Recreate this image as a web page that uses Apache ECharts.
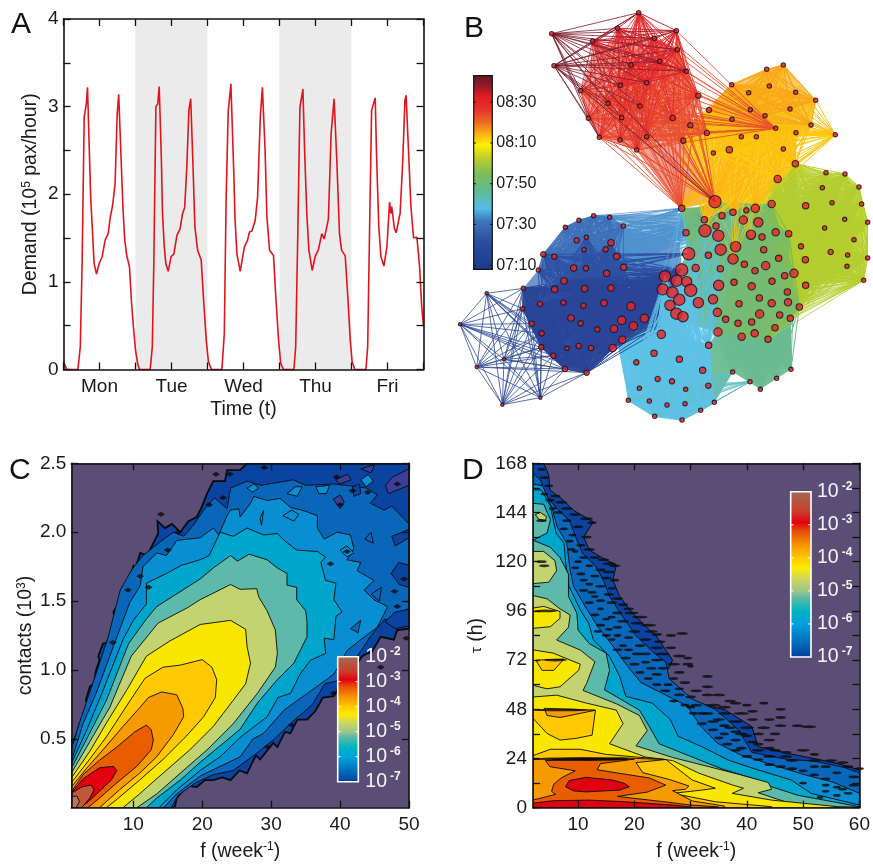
<!DOCTYPE html>
<html><head><meta charset="utf-8">
<style>html,body{margin:0;padding:0;background:#fff}#c{width:873px;height:865px}</style>
<script src="https://cdn.jsdelivr.net/npm/echarts@6/dist/echarts.min.js"></script>
</head><body><div id="c"></div>
<script>
// ---------- Panel A: demand over the week [hour, demand]
const demandMon=[[0,.09],[1.1,0],[4.8,0],[5.6,.26],[6.2,1.2],[6.9,2.88],[7.6,3.03],[8,3.22],[8.7,2.39],[9.1,1.93],[9.7,1.55],[10.2,1.21],[11,1.09],[11.9,1.21],[12.9,1.29],[13.9,1.48],[14.9,1.55],[15.6,1.74],[16.4,1.88],[17.2,2.12],[17.9,2.92],[18.4,3.14],[19.1,2.5],[19.8,1.86],[20.4,1.48],[21.1,1.3],[22,1.17],[22.7,.75],[23.3,.49],[24,.22],[24.7,.07],[25.3,0]];
const demandTue=[[28.9,0],[29.6,.26],[30.1,1.2],[30.8,3.0],[31.4,3.03],[31.9,3.23],[32.6,2.43],[33,1.78],[33.6,1.4],[34.1,1.21],[34.9,1.12],[35.9,1.29],[36.8,1.32],[37.8,1.53],[38.8,1.6],[39.7,1.78],[40.4,1.85],[41.1,2.31],[41.8,2.96],[42.4,3.09],[43.1,2.39],[43.8,1.63],[44.7,1.36],[45.9,1.25],[46.7,.79],[47.6,.33],[48.3,.09],[49.3,0]];
const demandWed=[[52.8,0],[53.6,.41],[54.2,1.93],[54.9,2.94],[55.8,3.26],[56.7,2.31],[57.2,1.7],[57.8,1.32],[58.9,1.12],[60.3,1.4],[61.3,1.47],[62,1.57],[62.8,1.58],[63.9,1.7],[64.7,1.97],[65.6,2.88],[66.3,3.22],[67.2,2.5],[67.8,1.74],[68.7,1.36],[70,1.3],[70.7,.87],[71.7,.33],[72.4,.07],[73.3,0]];
const demandThu=[[76.8,0],[77.4,.26],[78.1,1.55],[78.8,2.99],[79.3,3.0],[79.8,3.2],[80.4,2.47],[81.1,1.78],[81.8,1.36],[82.9,1.13],[83.9,1.29],[85,1.37],[86.1,1.55],[86.4,1.56],[86.9,1.49],[87.6,1.6],[88.3,1.72],[89.2,2.69],[90.2,3.09],[91.1,2.39],[92,1.55],[92.7,1.36],[93.9,1.3],[94.7,.87],[95.6,.33],[96.2,.09],[97.1,0]];
const demandFri=[[100.8,0],[101.4,.26],[102,1.55],[102.7,2.96],[103.2,2.97],[103.9,3.1],[104.4,2.39],[105.1,1.63],[105.8,1.29],[106.8,1.18],[107.8,1.4],[108.7,1.91],[109.1,1.78],[109.4,1.86],[109.8,1.86],[110.3,1.61],[110.9,1.56],[111.7,1.7],[112.2,1.78],[113.1,2.39],[113.8,3.07],[114.2,3.13],[115,2.5],[115.8,1.86],[116.7,1.5],[117.8,1.51],[118.7,1.17],[119.4,.72],[120,.49]];
const dayNames=['Mon','Tue','Wed','Thu','Fri'];
const dayCentres=[12,36,60,84,108];
const shadedDays=[[24,48],[72,96]];

// ---------- Panel B: network layout [x, y, weight]
const maroonNodes=[[335,101,1],[342,197,1]];
const redNodes=[[596,38,1],[533,85,1],[458,123,1],[709,92,1],[643,115,1],[712,149,1],[659,184,1],[739,214,1],[573,195,1],[620,248,1],[541,256,1],[422,272,1],[504,310,1],[600,318,1],[545,353,1],[445,355,1],[478,412,1],[540,420,1],[620,410,1],[590,450,1],[698,354,2],[775,287,2]];
const orangeNodes=[[1030,195,1],[980,208,1],[875,254,1],[988,258,1],[926,278,1],[1067,277,1],[1127,301,1],[807,330,2],[931,329,1],[1050,327,1],[975,347,1],[876,358,1],[1113,375,1]];
const yellowNodes=[[751,376,2],[1007,385,1],[801,399,2],[1068,398,1],[1186,404,1],[904,410,1],[949,410,1],[730,422,2],[1030,447,1],[868,449,3],[820,459,1],[1066,491,3],[1013,537,4]];
const limeNodes=[[1013,537,4],[1066,491,3],[1158,518,1],[1215,522,1],[1147,563,1],[1257,561,1],[1176,608,1],[1265,612,1],[1097,617,3],[1214,658,1],[1283,667,1],[1154,684,1],[1242,719,1],[1083,739,2],[1172,756,2],[1223,765,1],[1096,779,3],[1283,774,1],[1221,799,1],[1271,841,1],[1097,856,3]];
const greenNodes=[[725,625,3],[793,659,3],[846,647,3],[879,637,3],[919,631,2],[946,625,5],[995,612,4],[828,678,3],[910,660,5],[955,667,6],[738,698,3],[795,692,9],[835,707,8],[933,704,6],[966,711,3],[1007,697,4],[1046,701,3],[842,749,8],[887,740,7],[746,761,9],[805,766,3],[971,749,3],[879,777,7],[1016,775,3],[767,804,4],[841,806,3],[913,793,3],[977,797,5],[945,812,3],[1034,827,3],[1062,820,5],[836,856,7],[882,847,3],[935,859,4],[996,844,3],[1042,876,3],[819,898,6],[775,908,7],[958,894,3],[897,911,3],[995,910,4],[1044,907,4],[1078,921,3],[832,937,5],[857,958,3],[894,970,3],[935,966,3],[959,942,5],[1019,945,3],[1051,955,3],[1005,983,3],[834,996,5],[944,1000,4],[905,1010,4],[984,1018,3]];
const tealNodes=[[878,1116,1],[930,1145,1],[961,1168,1],[1010,1135,1],[1053,1108,1]];
const skyNodes=[[806,1036,3],[664,1003,5],[642,1060,3],[589,1087,2],[718,1078,3],[788,1111,3],[653,1137,2],[696,1144,2],[805,1157,2],[598,1165,1],[737,1168,1],[565,1201,1],[628,1203,1],[681,1215,1],[735,1211,1],[782,1231,1],[823,1207,1],[644,1249,1],[726,1260,1]];
const blueNodes=[[461,647,1],[509,652,1],[417,661,1],[550,678,1],[376,682,1],[410,721,2],[439,712,1],[513,728,3],[432,749,1],[497,748,2],[310,763,2],[343,770,2],[530,769,3],[295,810,1],[401,804,3],[438,805,2],[551,802,3],[500,820,3]];
const navyNodes=[[372,843,3],[344,868,3],[434,866,3],[513,864,3],[300,912,2],[370,908,2],[430,917,2],[492,909,3],[573,919,5],[393,954,3],[422,970,2],[545,961,5],[472,988,2],[522,986,4],[381,1045,1],[416,1038,2],[453,1044,2],[518,1044,4],[547,1019,4],[613,955,5],[580,978,5]];
const rimNodes=[[250,865,1],[248,926,1],[275,971,2],[305,1000,2],[304,1042,2],[340,1067,2],[375,1107,2],[440,1118,2]];
const outerNodes=[[140,880,0],[60,973,0],[110,1101,0],[192,1078,0],[187,1214,0],[301,1193,0]];
const coreNodes=[[725,810,9],[675,829,8],[710,842,8],[740,845,7],[668,868,8],[697,877,8],[752,871,9],[718,899,8],[690,916,7],[709,941,8],[729,950,7]];
const hubNode=[[825,605,9]];
const hubBridge=[[725,625,3],[825,605,9],[793,659,3],[879,637,3],[946,625,5]];
const yellowThreads=[[887,740,7],[933,704,6],[846,647,3],[879,777,7],[795,692,9]];
// densely-woven interiors of each community [outline, colour, opacity]
const hullSky=[[527,1000],[664,1003],[806,1036],[823,1207],[782,1231],[726,1260],[644,1249],[565,1201]];
const hullNavy=[[250,865],[344,868],[372,843],[513,864],[668,868],[690,916],[580,978],[522,1040],[440,1118],[375,1107],[304,1042],[248,926]];
const hullBlue=[[295,810],[310,763],[376,682],[461,647],[550,678],[720,730],[725,810],[513,864],[372,843],[250,865]];
const hullTeal=[[834,996],[1051,955],[1053,1108],[961,1168],[878,1116],[823,1207],[806,1036]];
const hullGreen=[[715,640],[825,605],[995,612],[1062,820],[1097,856],[1078,921],[1051,955],[1005,1020],[834,996],[700,960],[668,868],[746,761]];
const hullLime=[[1013,537],[1066,491],[1158,518],[1215,522],[1257,561],[1283,667],[1283,774],[1271,841],[1097,856],[1062,820],[1046,701],[995,612]];
const hullYellow=[[751,376],[801,330],[875,254],[1067,277],[1127,301],[1113,375],[1068,398],[1066,491],[1013,537],[995,612],[825,605],[730,422]];
const hullOrange=[[875,254],[980,208],[1030,195],[1127,301],[1050,327],[931,329],[807,330]];
const hullRed=[[458,160],[540,110],[640,115],[709,150],[775,287],[751,376],[730,422],[825,605],[725,625],[590,450],[478,412],[445,355],[422,272]];
const netHulls=[[hullBlue,'#3f74b9',.75],[hullNavy,'#2a4597',.95],[hullSky,'#5dc2e6',.97],[hullTeal,'#6abb90',.95],[hullLime,'#b8cf2c',.7],[hullGreen,'#74bb78',.97],[hullYellow,'#fcca0e',.75],[hullOrange,'#f9ab1a',.65],[hullRed,'#e6402e',.5]];

// arrival-time colour bar (minutes after midnight)
const clockTicks=[430,450,470,490,510];
const clockStops=[[428,'#1c3a8c'],[442,'#2b4e9e'],[452,'#3e78bd'],[458,'#55bde6'],[466,'#60bb95'],[475,'#7bbd58'],[483,'#c2d02a'],[489,'#fff000'],[494,'#fdb514'],[500,'#ec6a25'],[506,'#e6352c'],[513,'#e01a24'],[518,'#8e1a2c'],[523,'#62181f']];

// ---------- Panel C: density contours [f, contacts]
const cL1=[[1,.49],[1.5,.5],[2.2,.61],[2.5,.6],[3.3,.76],[3.1,.78],[3.7,.88],[4.3,.9],[4.6,1.0],[5.1,1.07],[4.9,1.1],[5.6,1.19],[6.2,1.2],[6.8,1.29],[7.3,1.39],[7.1,1.42],[8.5,1.53],[8.2,1.58],[9.3,1.65],[10,1.75],[10.2,1.72],[11,1.85],[12,1.83],[12.9,1.92],[13.6,1.99],[13.5,2.08],[14.6,2.03],[15.6,2.06],[16.8,2.0],[18,2.08],[19.2,2.11],[19.9,2.18],[20.7,2.28],[21.6,2.37],[23.3,2.37],[23.6,2.45],[25.5,2.45],[26.5,2.5],[50,2.5],[50,1.3],[48.3,1.29],[47.8,1.22],[45.9,1.24],[44.6,1.13],[44,1.12],[43.2,1.1],[41.5,.97],[40.1,.9],[39.1,.81],[37.5,.8],[36.4,.7],[35.2,.64],[33.8,.64],[32.8,.54],[32,.55],[30.9,.44],[30.3,.47],[28.4,.35],[27.8,.38],[26.5,.25],[25.4,.27],[24.1,.2],[22.9,.22],[21.6,.2],[20.4,.2],[19.2,.15],[17.8,.16],[16.3,.07],[16,0],[1,0]];
const cL2=[[1,.42],[2.2,.62],[4.1,.9],[6.3,1.23],[8.1,1.58],[9.8,1.73],[11.4,1.83],[13.9,1.93],[15.8,2.0],[17.3,1.97],[18.7,2.05],[20.2,2.16],[21.8,2.25],[23.6,2.17],[24.1,2.32],[26.5,2.37],[28.5,2.34],[33.2,2.38],[35,2.34],[39.1,2.35],[43.9,2.32],[45.4,2.27],[44.4,2.21],[46.4,2.16],[47.5,2.19],[50,2.06],[50,1.45],[47.5,1.35],[46.5,1.37],[44.5,1.25],[42.5,1.1],[39.5,.92],[37.8,.9],[36,.75],[33,.62],[30.5,.5],[27.5,.38],[24.5,.27],[21.6,.24],[19,.18],[16.5,.09],[15.5,0],[1,0]];
const cL3=[[1,.335],[2.7,.61],[4.6,.83],[7.1,1.17],[9.5,1.49],[11,1.61],[11.4,1.75],[13.4,1.85],[14.8,1.83],[16.3,1.94],[19.7,1.96],[21.6,2.03],[22.4,1.98],[23.6,2.12],[24.06,2.16],[25.3,2.17],[25.5,2.11],[27,2.21],[27.5,2.26],[29.4,2.23],[31.3,2.245],[32.8,2.18],[34.5,2.16],[36.7,2.12],[36.7,2.03],[37.7,1.95],[39.6,2.0],[41.5,1.98],[42,1.88],[41,1.8],[43,1.78],[42.5,1.72],[44.9,1.65],[43.5,1.58],[44.9,1.51],[46.9,1.46],[45.4,1.31],[43,1.22],[41,1.14],[39.1,.97],[37.2,.9],[31.9,.71],[28.9,.54],[27.4,.5],[25.5,.37],[22.6,.3],[19.7,.23],[16.3,.1],[14.4,0],[1,0]];
const cL4=[[1,.32],[3.2,.56],[5.6,.85],[8.5,1.22],[10,1.36],[11.9,1.48],[11.9,1.63],[14.8,1.7],[17,1.76],[19.7,1.8],[21,1.83],[22.6,2.0],[24.5,1.97],[26.5,2.03],[28.9,1.98],[30.9,1.99],[31.9,1.94],[33.7,1.87],[36.7,1.86],[37.9,1.82],[37.2,1.78],[37.9,1.65],[39.4,1.63],[39.1,1.51],[40.3,1.42],[39.4,1.39],[39.1,1.22],[37.7,1.23],[37.9,1.12],[35.7,1.07],[34.2,.97],[32.8,.83],[31,.8],[29.4,.66],[25.5,.51],[22.6,.37],[19.7,.27],[16.3,.13],[13.9,.01],[13.9,0],[1,0]];
const cL5=[[1,.285],[3.4,.515],[6.1,.78],[9.3,1.19],[11.9,1.37],[13.4,1.46],[17.8,1.6],[19.7,1.66],[21.6,1.74],[24.1,1.83],[25.1,1.79],[26.8,1.84],[29.4,1.8],[30.9,1.74],[32.3,1.7],[32.3,1.615],[33.7,1.6],[33.7,1.51],[35,1.43],[35.2,1.35],[35.2,1.24],[34,1.12],[33.3,1.05],[30.9,.93],[28,.76],[25.5,.57],[23.1,.47],[19.7,.33],[16.8,.2],[13.4,.07],[11.9,0],[1,0]];
const cL6=[[1,.25],[3.7,.48],[6.6,.73],[9.7,1.1],[13.6,1.34],[17.8,1.45],[19.7,1.51],[24.1,1.62],[25.5,1.585],[27.9,1.59],[28.2,1.53],[29.4,1.43],[30.6,1.29],[30.9,1.12],[30.6,1.02],[28,.83],[24.5,.61],[20.7,.42],[16.8,.25],[13.4,.1],[10.5,0],[1,0]];
const cL7=[[1,.215],[3.7,.41],[6.1,.615],[9,.85],[11.9,1.1],[15.3,1.21],[19.7,1.33],[24.1,1.36],[26.3,1.295],[26.5,1.17],[27,1.05],[26.3,.9],[24.5,.78],[21.6,.59],[18.2,.42],[14.3,.25],[10.9,.1],[8.5,0],[1,0]];
const cL8=[[1,.18],[3.4,.335],[6.1,.515],[9.3,.76],[11.7,.94],[14.3,1.02],[16.8,1.035],[20,1.075],[21.4,1.02],[22.1,.93],[21.9,.8],[20.2,.66],[17.7,.52],[14.3,.35],[10.9,.2],[7.6,.06],[6.1,0],[1,0]];
const cL9=[[1,.15],[3.2,.285],[5.6,.42],[8.5,.59],[11,.73],[12.2,.8],[14.1,.84],[16.3,.82],[17.2,.72],[17.3,.66],[15.8,.53],[13.4,.37],[10.9,.25],[8,.13],[5.1,0],[1,0]];
const cL10=[[1,.115],[2.7,.24],[5.1,.345],[7.6,.44],[10.2,.55],[11.9,.6],[12.6,.565],[12.9,.49],[12.6,.42],[10.5,.3],[7.6,.18],[5.1,.07],[3.4,0],[1,0]];
const cL11=[[1,.105],[2.7,.21],[5.1,.29],[7.1,.3],[7.6,.27],[6.8,.2],[5.1,.12],[3.4,.04],[2.2,0],[1,0]];
const cL12=[[1,.105],[2.5,.15],[3.9,.165],[4.3,.13],[3.7,.07],[2.5,0],[1,0]];
const cL13=[[1,.08],[1.8,.085],[2.2,.045],[1.7,0],[1,0]];
const cLevels=[[cL1,0,1.8],[cL2,1],[cL3,2],[cL4,3],[cL5,4],[cL6,5],[cL7,6],[cL8,7],[cL9,8],[cL10,9],[cL11,10],[cL12,11],[cL13,12]];
// small closed contours in the noisy tail [polygon, colour level]
const cIslands=[
 [[[47,2.28],[50,2.34],[50,2.46],[47.6,2.4],[46.6,2.34]],13],
 [[[48,1.9],[50,1.96],[50,2.02],[47.5,1.97]],0],
 [[[43,2.46],[45,2.49],[44.5,2.43]],13],
 [[[26.5,2.32],[27.5,2.35],[28.2,2.32],[27.3,2.29]],2],
 [[[32.3,2.28],[33.5,2.33],[34.5,2.33],[33.8,2.26]],2],
 [[[36.5,2.33],[38.5,2.34],[38,2.28],[36.9,2.28]],2],
 [[[31.7,2.12],[33,2.16],[34,2.13],[33.3,2.08]],2],
 [[[39,2.24],[40,2.27],[40.6,2.22],[40,2.17]],13],
 [[[28.4,2.1],[28.9,2.16],[28.6,2.05]],3],
 [[[43,2.38],[44.1,2.42],[44.8,2.37],[43.8,2.33]],2],
 [[[40,1.87],[41,1.9],[42,1.85],[41,1.82]],2],
 [[[43.6,1.95],[44.5,2.0],[44.8,1.92]],1],
 [[[39.3,2.38],[41.1,2.42],[41.6,2.38],[40,2.35]],13],
 [[[41.8,2.33],[42.8,2.35],[43,2.28],[42,2.26]],0],
 [[[47.4,1.7],[48.5,1.78],[50,1.76],[50,1.6],[48.6,1.62]],0],
 [[[46.5,1.35],[48,1.42],[50,1.44],[50,1.32],[48,1.3]],0],
 [[[41.5,1.3],[43,1.36],[42.6,1.27]],1],
 [[[44.5,1.55],[46,1.6],[45.7,1.5]],1]
];
const cSpecks=[[14,2.13],[11,1.68],[45.9,1.02],[39.1,.83],[47.9,1.57],[48.3,1.46],[44,2.29],[39.5,2.4],[41.8,2.3],[48.3,2.35],[41,1.86],[38.6,1.77],[49.3,1.66],[40,2.2],[12.2,1.6],[7,1.2],[9.2,1.58],[33,.6],[29.5,.44],[49.6,1.23],[16.5,2.0],[15,1.87],[24,2.42],[21,2.2],[23,2.25],[29,2.47],[22,2.42]];

// ---------- Panel D: density contours [f, tau]
const dL0=[[2,168],[3.9,168],[4.4,165],[4.8,162],[5,155],[7.4,150],[9.2,145],[12.7,139.5],[11,132],[12,125.7],[14.5,121.6],[16.8,118.4],[16.2,111],[17.4,103],[19.7,94.8],[22.7,86.7],[24,83.4],[26.8,72],[25.6,65.5],[28,55.8],[31.5,51],[36.2,47.6],[40.9,39.5],[42,29.8],[47.3,26.5],[50.3,24.9],[56.1,21.6],[60,18.4],[60,0],[2,0]];
const dL1=[[2,163],[3.3,160],[4.2,153],[6.2,146],[8.5,140],[9.6,132],[10.8,124],[13.1,118],[14.5,111],[15.6,103],[18,93],[20.3,84],[23.3,76],[25.6,71],[26.2,63],[30.3,53],[34.4,48],[38.5,38],[40.9,27],[47.3,23.5],[51.9,22.8],[57.2,19.7],[60,17],[60,0],[2,0]];
const dL2=[[2,158],[3.7,157],[5.4,146],[6.3,137],[8,129],[8.6,116],[9.2,108],[11.3,98],[13.6,88],[15.9,80],[18.8,69],[21.2,61],[25.9,54.5],[29.4,49.6],[31.8,39.8],[34.7,31.6],[38.8,25.9],[44.7,20.7],[50.6,15.8],[55.3,12.5],[60,7],[60,0],[2,0]];
const dL3=[[2,155],[3.5,155],[5.1,147],[5.7,139],[6.1,134],[7.5,129],[7.8,119.5],[8.4,108],[10.4,96.5],[11.9,90],[12.7,82],[15.6,73.8],[17.4,64],[18.5,54.3],[23.2,51],[26.4,43],[27.8,34.8],[32,29.8],[36.7,23.2],[42,18.4],[47.9,13.5],[51.4,7],[60,1.3],[60,0],[2,0]];
const dL4=[[2,148.5],[3.9,148],[5.1,140.5],[4.5,134],[2,130.5],[5.1,127],[6.8,122],[8.3,114],[8.3,103],[9.8,94.8],[10,86.7],[12,80],[15,75.4],[15.6,67],[14.7,57.5],[20.9,47.6],[22.7,39.5],[24.4,31.2],[30.3,24.7],[35.5,19],[42,13.5],[44.4,10.2],[49,6.1],[60,.5],[60,0],[2,0]];
const dL5a=[[2,125],[3.9,125],[5.9,120.5],[6.2,115.6],[4.8,110],[2,109.3]];
const dL5b=[[2.4,143],[3.3,144],[4.4,142],[4.2,140],[3,140.8]];
const dL5=[[2,103.5],[4.5,101.9],[6.8,97],[8.6,94],[8.3,88],[6.2,81.8],[10.4,76.9],[13,71.2],[11.5,60.5],[10.9,57.2],[16.8,50.7],[20.9,45],[22.3,37.6],[20.3,30.2],[26.8,24.5],[32.7,20.4],[38.5,16.3],[43.8,12.3],[44.4,9],[42,7.3],[49,.9],[60,.3],[60,0],[2,0]];
const dL6a=[[2,97.4],[3.9,98.2],[6.8,95.7],[6.8,92.4],[5.1,88.3],[2,87.5]];
const dL6b=[[2,77],[5.6,75.4],[10.4,70],[10.1,67],[6.8,59],[4.5,58],[2,59.7]];
const dL6=[[2,54],[6.2,54.9],[11.5,51],[16.8,47.6],[18,41],[15.6,31.2],[22,24.7],[26.8,23],[31.5,16.8],[37.4,11.1],[39.4,9.5],[37.4,7],[44.4,3.7],[56.1,.5],[56.1,0],[2,0]];
const dL7a=[[2.5,72],[7.5,72.5],[5.7,67],[3.6,67]];
const dL7b=[[2,47.6],[13.1,47.6],[12.5,35.4],[9.6,33.8],[6.8,33],[4.5,36.2],[2,43.6]];
const dL7=[[2,25.4],[5.1,28.5],[10.4,28.5],[15,26],[25.6,23.5],[30.3,13.5],[34.4,9.5],[32,8.6],[26.8,7],[34.4,2.9],[44.4,.5],[44.4,0],[2,0]];
const dL8a=[[4,48.5],[8,48],[13,47.5],[9.5,45.5],[6.8,44],[4.5,45]];
const dL8=[[2,23.5],[18,24.3],[25.6,23.5],[20.3,22],[21.5,17.1],[26.2,13.8],[29.7,10.6],[29.1,9],[26.8,8.3],[30.3,3.3],[36,.8],[36,0],[2,0]];
const dL9=[[4.2,23],[20,23.7],[14,21.5],[13.4,18.5],[18,16.5],[22.7,14.5],[25.6,11],[22.3,7.6],[17,5.5],[25,3],[30,1.3],[35,.4],[35,0],[2,0],[2,3.7],[6,6.5],[5.3,8],[5.7,11.5],[7,14.5],[9.5,18],[5,20]];
const dL10a=[[7.8,10.2],[8.4,13.2],[11.4,14.8],[16.1,13.5],[18.2,11.9],[19.1,10.2],[17.4,8.6],[11.4,7.7],[9.2,8.2]];
const dL10=[[2,2.2],[5.6,3.4],[12,3.7],[18.4,2.9],[26.8,1.3],[30,.4],[30,0],[2,0]];
const dLevels=[[dL0,0,1],[dL1,1],[dL2,2],[dL3,3],[dL4,4],[dL5,5],[dL5a,5],[dL5b,5],[dL6,6],[dL6a,6],[dL6b,6],[dL7,7],[dL7a,7],[dL7b,7],[dL8,8],[dL8a,8],[dL9,9],[dL10,10],[dL10a,10]];
// isolated dashes along the noisy edge [f, tau, extent]
const dSpecks=[[3.5,165,6],[4,161,7],[4.8,157,7],[4,153,6],[6,152,8],[7,149,9],[5.5,146,6],[8,146,9],[9.5,143,9],[11.5,141,10],[12.5,139,7],[8,140,7],[10,137,8],[11.5,132,8],[9,133,6],[10.5,128,7],[12,126,9],[9.5,125,5],[11,122,7],[13,122,8],[14.5,121,9],[15.5,119,10],[16.5,118,9],[12,118,6],[14,116,8],[15.5,115,9],[13,113,7],[15,112,8],[16.5,111,7],[12,109,6],[14,108,8],[16,107,6],[15.5,104,8],[17,102,9],[13,103,6],[16,100,8],[18,99,8],[19,97,8],[14,97,5],[17,95,8],[19.5,95,11],[21,93,12],[15,92,6],[18,91,9],[20.5,90,10],[22.5,89,12],[17,88,7],[20,86,9],[23,86,10],[24,84.5,8],[26.5,84,8],[28.5,85,9],[19,83,7],[22,82,9],[24.5,81,9],[21,79,8],[24,78,10],[26.5,78,8],[22,75,8],[25,75,11],[28,74,10],[29.5,73,7],[24,72,9],[27,70,10],[29.5,70,8],[25,68,7],[28,66,8],[30,69,5],[27,63,7],[29,61,8],[33,64,8],[28,58,7],[31,57,9],[30,54,8],[33,59,9],[33,55,9],[35,55,10],[37,52,9],[31,50,9],[34,50,12],[36,49,10],[38,51,9],[40,50,7],[43,51,7],[33,46,9],[36,46,10],[39,46,12],[41,47,8],[46,48,8],[35,43,9],[38,42,11],[41,43,8],[44,43,8],[46,44,8],[37,39,9],[40,39,11],[43,39,10],[46,40,9],[49,40,9],[51,39.5,12],[36,36,7],[39,36,10],[42,36,9],[45,36,8],[38,33,8],[41,32,8],[44,33,9],[39,29,8],[42,28,10],[45,28,9],[44,25,10],[47,25,9],[50,28,10],[52,26,7],[48,23,9],[52,23,10],[55,23,9],[57,22,9],[54,20,8],[58,20,8],[60,19,7],[52,20,7],[56,17,7],[59,15,8],[59,11,8],[56,10,6],[54,8,6],[58,7,7],[6,72,18],[4.2,96,18],[7,47.7,40],[11,24,70],[12,23.5,60],[3.5,120,8],[3.5,140,8],[4,118,8]];
const dSpecksInner=[[5,150,7],[6.5,144,7],[7.5,136,6],[8.5,130,6],[8.8,126,6],[10,120,6],[10.5,114,7],[11,106,7],[12,100,7],[13,94,7],[14,89,7],[15,84,7],[16,82,6],[17,77,8],[18.5,73,8],[20,70,8],[21,66,7],[22.5,63,7],[24,60,7],[25.5,57,8],[27,52,7],[29,50,7],[30.5,46,7],[32,41,8],[34,38,8],[35,34,7],[36.5,31,8],[38,28,8],[40,25,8],[42,23.5,8],[44,21,8],[46,20,8],[48,19,8],[50,18,7],[52,16,7],[54,14,7],[50,12,6],[54,11,6],[57,9,7],[56,6,6],[53,5,5],[19,77,7],[20.5,75,8],[22,71,7],[23,68,8],[24,65,8],[26,60,7],[28,55,8],[30,49,7],[32,46,7],[34,42,9],[36,40,8],[38,37,8],[40,35,8],[42,31,8],[44,29,8],[47,27,8],[11,111,6],[12.5,105,7],[14,101,7],[9.5,117,6],[13.5,86,6],[15.5,87,6],[17,84,6],[18,79,6],[16,93,6]];

// contour palette, outside to inside
const levelColours=['#0a43a0','#0a66b8','#0a8ed2','#00a5cc','#5db9aa','#c2d36f','#f9e700','#ffc800','#f59a00','#e85d00','#e1000f','#c0563a','#b9745a','#3c3f98'];
const decadeValues=[-7,-6,-5,-4,-3,-2];
const decadeStops=[[-7,'#00429a'],[-6.5,'#0070be'],[-6,'#00a0de'],[-5.6,'#00b4c0'],[-5.2,'#5cb9a5'],[-5,'#a0c58a'],[-4.7,'#c5d36a'],[-4.3,'#ffeb00'],[-4,'#ffc800'],[-3.6,'#f59100'],[-3.2,'#e84c08'],[-2.95,'#e50012'],[-2.6,'#c8402c'],[-2,'#a06a55']];
const fTicksC=[10,20,30,40,50];
const contactTicks=[.5,1,1.5,2,2.5];
const fTicksD=[10,20,30,40,50,60];

// ---------- helpers
const FONT='"Liberation Sans",Arial,sans-serif';
const INK='#111';
function pairsWithin(nodes){const out=[];for(let i=0;i<nodes.length;i++)for(let j=i+1;j<nodes.length;j++)out.push({coords:[nodes[i].slice(0,2),nodes[j].slice(0,2)]});return out;}
function pairsAcross(a,b){const out=[];a.forEach(p=>b.forEach(q=>out.push({coords:[p.slice(0,2),q.slice(0,2)]})));return out;}
function edgeSeries(data,color,width,opacity){return {type:'lines',coordinateSystem:'cartesian2d',xAxisIndex:4,yAxisIndex:4,polyline:false,silent:true,animation:false,progressive:0,z:2,data:data,lineStyle:{color:color,width:width,opacity:opacity==null?.9:opacity,curveness:0}};}
function frameAxes(gridIndex,type,min,max,tickCfg,labelCfg,name,nameGap,pos,other,extra){
  const main=Object.assign({gridIndex:gridIndex,type:'value',min:min,max:max,position:pos,z:6,splitLine:{show:false},
    axisLine:{show:true,onZero:false,lineStyle:{color:INK,width:1.6}},
    axisTick:Object.assign({show:true,inside:true,length:7,lineStyle:{color:INK,width:1.3}},tickCfg),
    axisLabel:Object.assign({show:true,color:'#1a1a1a',fontFamily:FONT,fontSize:19,margin:8,hideOverlap:false},labelCfg),
    name:name,nameLocation:'middle',nameGap:nameGap,
    nameTextStyle:{color:'#1a1a1a',fontFamily:FONT,fontSize:19.5,rich:{sup:{fontSize:12,fontFamily:FONT,color:'#1a1a1a',verticalAlign:'bottom',padding:[0,0,9,0]},n:{fontSize:19.5,fontFamily:FONT,color:'#1a1a1a'},tau:{fontSize:15,fontFamily:FONT,color:'#1a1a1a'}}}},extra||{});
  const mirror=Object.assign({gridIndex:gridIndex,type:'value',min:min,max:max,position:other,z:6,splitLine:{show:false},
    axisLine:{show:true,onZero:false,lineStyle:{color:INK,width:1.6}},
    axisTick:Object.assign({show:true,inside:true,length:7,lineStyle:{color:INK,width:1.3}},tickCfg),
    axisLabel:{show:false}},extra||{});
  return [main,mirror];
}
function polygonSeries(levels,xi,yi,z){
  return {type:'custom',xAxisIndex:xi,yAxisIndex:yi,coordinateSystem:'cartesian2d',silent:true,animation:false,clip:true,z:z,
    data:levels.map((l,i)=>[i]),encode:{x:0,y:0},
    renderItem:function(params,api){
      const lev=levels[params.dataIndex];
      return {type:'polygon',shape:{points:lev[0].map(p=>api.coord(p))},style:{fill:levelColours[lev[1]],stroke:'#0a0a0a',lineWidth:lev[2]||.9}};
    }};
}
function hullSeries(hulls,xi,yi){
  return {type:'custom',xAxisIndex:xi,yAxisIndex:yi,coordinateSystem:'cartesian2d',silent:true,animation:false,clip:false,z:1,
    data:hulls.map((h,i)=>[i]),encode:{x:0,y:0},
    renderItem:function(params,api){
      const h=hulls[params.dataIndex];
      return {type:'polygon',shape:{points:h[0].map(p=>api.coord(p))},style:{fill:h[1],opacity:h[2]}};
    }};
}
function ramp(stops,xi,yi,lo,hi,border,borderWidth){
  return {type:'custom',xAxisIndex:xi,yAxisIndex:yi,coordinateSystem:'cartesian2d',silent:true,animation:false,clip:false,z:7,
    data:[[0]],encode:{x:0,y:0},
    renderItem:function(params,api){
      const a=api.coord([0,lo]),b=api.coord([1,hi]);
      const span=hi-lo;
      return {type:'rect',shape:{x:a[0],y:b[1],width:b[0]-a[0],height:a[1]-b[1]},
        style:{stroke:border,lineWidth:borderWidth,fill:{type:'linear',x:0,y:1,x2:0,y2:0,colorStops:stops.map(s=>({offset:(s[0]-lo)/span,color:s[1]}))}}};
    }};
}
function barAxis(gridIndex,lo,hi,ticks,color,formatter,rich,tickColor,margin,fs){
  return {gridIndex:gridIndex,type:'value',min:lo,max:hi,position:'right',z:9,splitLine:{show:false},
    axisLine:{show:false},
    axisTick:{show:true,inside:false,length:0,customValues:ticks},
    axisLabel:{show:true,customValues:ticks,margin:margin,color:color,fontFamily:FONT,fontSize:fs,formatter:formatter,rich:rich,hideOverlap:false}};
}
function barX(gridIndex){return {gridIndex:gridIndex,type:'value',min:0,max:1,show:false};}
function barTicks(values,xi,yi,color,frac){
  return {type:'custom',xAxisIndex:xi,yAxisIndex:yi,coordinateSystem:'cartesian2d',silent:true,animation:false,clip:false,z:8,
    data:values.map(v=>[v]),encode:{y:0},
    renderItem:function(params,api){
      const v=values[params.dataIndex];
      const a=api.coord([0,v]),b=api.coord([frac,v]),c=api.coord([1-frac,v]),d=api.coord([1,v]);
      return {type:'group',children:[
        {type:'line',shape:{x1:a[0],y1:a[1],x2:b[0],y2:b[1]},style:{stroke:color,lineWidth:1}},
        {type:'line',shape:{x1:c[0],y1:c[1],x2:d[0],y2:d[1]},style:{stroke:color,lineWidth:1}}]};
    }};
}
const supRich={n:{fontSize:19.5,fontFamily:FONT,color:'#f4f4f4'},sup:{fontSize:12,fontFamily:FONT,fontWeight:'bold',color:'#f4f4f4',verticalAlign:'bottom',padding:[0,0,10,3]}};
const decadeLabel=v=>'{n|10}{sup|'+v+'}';
const clockLabel=v=>{const h=Math.floor(v/60),m=v%60;return (h<10?'0':'')+h+':'+(m<10?'0':'')+m;};

// ---------- grids
const G=[
 {left:63.5,top:19,width:360,height:350.5},
 {left:71.3,top:463.3,width:337.7,height:344.4,show:true,backgroundColor:'#5a4e76',borderWidth:0},
 {left:533,top:463.3,width:329,height:344.4,show:true,backgroundColor:'#5a4e76',borderWidth:0},
 {left:440,top:0,width:433,height:430},
 {left:473.7,top:75.7,width:18.6,height:193.6},
 {left:337.7,top:656.7,width:20.6,height:125},
 {left:790.7,top:491.7,width:20.3,height:165.3}
];
const [ax0,ax1]=frameAxes(0,'x',0,120,{interval:12},{customValues:dayCentres,formatter:v=>dayNames[dayCentres.indexOf(v)]||'',margin:8},'Time (t)',30,'bottom','top',{interval:12});
const [ay0,ay1]=frameAxes(0,'y',0,4,{interval:.5},{customValues:[0,1,2,3,4],margin:5},'{n|Demand (10}{sup|5}{n| pax/hour)}',22,'left','right',{interval:.5});
const [cx0,cx1]=frameAxes(1,'x',1,50,{customValues:fTicksC},{customValues:fTicksC},'{n|f (week}{sup|-1}{n|)}',33,'bottom','top');
const [cy0,cy1]=frameAxes(1,'y',0,2.5,{customValues:contactTicks},{customValues:contactTicks,formatter:v=>v.toFixed(1),margin:5},'{n|contacts (10}{sup|3}{n|)}',32,'left','right');
const [dx0,dx1]=frameAxes(2,'x',2,60,{customValues:fTicksD},{customValues:fTicksD},'{n|f (week}{sup|-1}{n|)}',33,'bottom','top');
const [dy0,dy1]=frameAxes(2,'y',0,168,{interval:12},{customValues:[0,24,48,72,96,120,144,168],margin:6},'{tau|τ}{n| (h)}',46,'left','right',{interval:12});

const demandAll=[].concat(demandMon,demandTue,demandWed,demandThu,demandFri);
const allNodes=[].concat(outerNodes,rimNodes,navyNodes,blueNodes,skyNodes,tealNodes,limeNodes.slice(2),greenNodes,orangeNodes,yellowNodes,redNodes,maroonNodes,coreNodes,hubNode);
const greenLeft=greenNodes.filter(n=>n[0]<880),greenRight=greenNodes.filter(n=>n[0]>=880);

const option={
 animation:false,backgroundColor:'#fff',
 title:[
  {text:'A',left:6,top:5,textStyle:{fontFamily:FONT,fontSize:30,fontWeight:'normal',color:'#111'}},
  {text:'B',left:459,top:9,textStyle:{fontFamily:FONT,fontSize:30,fontWeight:'normal',color:'#111'}},
  {text:'C',left:4,top:451,textStyle:{fontFamily:FONT,fontSize:30,fontWeight:'normal',color:'#111'}},
  {text:'D',left:457,top:451,textStyle:{fontFamily:FONT,fontSize:30,fontWeight:'normal',color:'#111'}}
 ],
 grid:G,
 xAxis:[ax0,ax1,cx0,cx1,
   {gridIndex:3,type:'value',min:0,max:1299,show:false},
   barX(4),barX(5),barX(6),dx0,dx1],
 yAxis:[ay0,ay1,cy0,cy1,
   {gridIndex:3,type:'value',min:0,max:1290,inverse:true,show:false},
   barAxis(4,428,523,clockTicks,'#1a1a1a',clockLabel,undefined,'#111',4,16),
   barAxis(5,-7,-2,decadeValues,'#f4f4f4',decadeLabel,supRich,'#fff',7,19),
   barAxis(6,-7,-2,decadeValues,'#f4f4f4',decadeLabel,supRich,'#fff',6,19),
   dy0,dy1],
 series:[
  {type:'line',xAxisIndex:0,yAxisIndex:0,data:demandAll,showSymbol:false,smooth:false,clip:true,z:3,
   lineStyle:{color:'#e1131e',width:1.6},
   markArea:{silent:true,itemStyle:{color:'#ebebeb'},data:shadedDays.map(s=>[{xAxis:s[0]},{xAxis:s[1]}])}},
  // network: woven interiors, then the edges drawn over them
  hullSeries(netHulls,4,4),
  edgeSeries(pairsWithin(outerNodes.concat(rimNodes)),'#2f4a94',.8,1),
  edgeSeries(pairsAcross(blueNodes,coreNodes.concat(greenLeft.slice(0,8))),'#4f93cf',.8,.85),
  edgeSeries(pairsWithin(blueNodes.concat(navyNodes.slice(0,4))),'#3f70b8',1.1,1),
  edgeSeries(pairsWithin(navyNodes.concat(rimNodes)),'#2a4597',1.1,1),
  edgeSeries(pairsAcross(blueNodes.slice(6),navyNodes),'#2f50a3',.9,1),
  edgeSeries(pairsAcross(blueNodes.slice(10),[[746,761],[725,810],[675,829]]),'#2f50a3',1,1),
  edgeSeries(pairsWithin(skyNodes.concat(navyNodes.slice(-3))),'#5dc2e6',1.4,1),
  edgeSeries(pairsAcross(tealNodes,greenLeft.concat(greenRight)),'#6abb92',1,1),
  edgeSeries(pairsAcross(skyNodes.slice(8),tealNodes.slice(0,2)),'#62bfc4',.8,1),
  edgeSeries(pairsWithin(limeNodes),'#b8cf2c',1,1),
  edgeSeries(pairsAcross(limeNodes,greenRight),'#b4cd30',.8,1),
  edgeSeries(pairsWithin(greenLeft),'#69b98c',1.2,1),
  edgeSeries(pairsWithin(greenRight),'#80bd5b',1.2,1),
  edgeSeries(pairsAcross(greenLeft,greenRight),'#76bb74',.8,1),
  edgeSeries(pairsAcross(skyNodes.slice(0,6),greenLeft),'#5dc2e6',.6,.8),
  edgeSeries(pairsAcross(navyNodes.concat(rimNodes),coreNodes),'#2a4597',.9,1),
  edgeSeries(pairsAcross(skyNodes,coreNodes),'#5dc2e6',.9,1),
  edgeSeries(pairsAcross(yellowNodes,hubBridge),'#fbc50f',1,1),
  edgeSeries(pairsAcross(yellowNodes.slice(5,10),yellowThreads),'#fbc50f',.7,1),
  edgeSeries(pairsAcross(orangeNodes,hubBridge),'#fbb514',.8,1),
  edgeSeries(pairsWithin(yellowNodes),'#fcca0e',1.3,1),
  edgeSeries(pairsAcross(yellowNodes,orangeNodes),'#fbbe12',1,1),
  edgeSeries(pairsWithin(orangeNodes),'#f8a61c',1.1,1),
  edgeSeries(pairsAcross(redNodes,hubBridge.slice(0,2).concat(yellowNodes.slice(0,3),[yellowNodes[7]])),'#e9502f',.9,1),
  edgeSeries(pairsWithin(redNodes.slice(5)),'#e8442d',1,1),
  edgeSeries(pairsWithin(redNodes.slice(0,11)),'#dc2030',1,1),
  edgeSeries(pairsAcross(redNodes.slice(0,5),redNodes.slice(11)),'#e02a2e',.8,1),
  edgeSeries(pairsAcross(maroonNodes,redNodes.slice(0,17)),'#7c1c2c',.8,1),
  edgeSeries(pairsAcross(maroonNodes,hubNode),'#6b1c28',.9,1),
  {type:'scatter',xAxisIndex:4,yAxisIndex:4,data:allNodes,symbol:'circle',silent:true,animation:false,z:5,
   symbolSize:d=>3.4+d[2],itemStyle:{color:'#e8232b',borderColor:'#111',borderWidth:1.1}},
  // contours
  polygonSeries(cLevels,2,2,2),
  polygonSeries(cIslands,2,2,3),
  {type:'scatter',xAxisIndex:2,yAxisIndex:2,data:cSpecks,symbol:'diamond',symbolSize:[8,5],silent:true,animation:false,z:4,itemStyle:{color:'#0a0a0a'}},
  polygonSeries(dLevels,8,8,2),
  {type:'scatter',xAxisIndex:8,yAxisIndex:8,data:dSpecks.concat(dSpecksInner),symbol:'circle',silent:true,animation:false,z:4,clip:true,
   symbolSize:d=>[d[2]*1.3,2.8],itemStyle:{color:'#0a0a0a'}},
  // colour bars
  ramp(clockStops,5,5,428,523,'#111',1.2),
  barTicks(clockTicks,5,5,'#111',.12),
  ramp(decadeStops,6,6,-7,-2,'#fff',1.6),
  barTicks(decadeValues.slice(1,-1),6,6,'#fff',.14),
  ramp(decadeStops,7,7,-7,-2,'#fff',1.6),
  barTicks(decadeValues.slice(1,-1),7,7,'#fff',.14)
 ]
};
const chart=echarts.init(document.getElementById('c'),null,{renderer:'canvas'});
chart.setOption(option);
</script></body></html>
